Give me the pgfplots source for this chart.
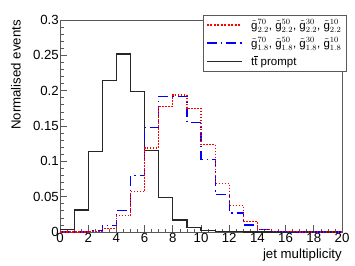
\documentclass[border=0pt]{standalone}
\usepackage{amsmath}
\usepackage{fontspec}
\setmainfont{Liberation Sans}
\usepackage{pgfplots}
\usepackage{pgfplotstable}
\pgfplotsset{compat=1.18}

\pgfplotstableread{
x y
0 0.003
1 0.031
2 0.114
3 0.214
4 0.252
5 0.199
6 0.115
7 0.049
8 0.017
9 0.006
10 0.002
11 0.001
12 0.0005
13 0
14 0
15 0
16 0
17 0
18 0
19 0
20 0
}\ttprompt

\pgfplotstableread{
x y
0 0
1 0
2 0.001
3 0.005
4 0.023
5 0.057
6 0.119
7 0.178
8 0.194
9 0.175
10 0.124
11 0.069
12 0.038
13 0.015
14 0.004
15 0.001
16 0.0003
17 0
18 0
19 0
20 0
}\gtwo

\pgfplotstableread{
x y
0 0
1 0
2 0.002
3 0.009
4 0.030
5 0.080
6 0.148
7 0.192
8 0.192
9 0.155
10 0.103
11 0.053
12 0.027
13 0.010
14 0.003
15 0.001
16 0
17 0
18 0
19 0
20 0
}\gone

\begin{document}
\begin{tikzpicture}
\path[use as bounding box] (0,0) rectangle (355pt,265pt);
\begin{axis}[
  at={(60pt,33pt)}, anchor=south west,
  scale only axis,
  width=282pt, height=212pt,
  xmin=0, xmax=20, ymin=0, ymax=0.3,
  enlargelimits=false,
  xtick={0,2,...,20},
  ytick={0,0.05,0.1,0.15,0.2,0.25,0.3},
  minor x tick num=3,
  minor y tick num=4,
  tick align=inside,
  tick pos=left,
  major tick length=7pt,
  minor tick length=3.5pt,
  scaled y ticks=false,
  axis line style={black!65, line width=0.8pt},
  every tick/.style={black!65, line width=0.7pt},
  /pgf/number format/assume math mode=true,
  yticklabel style={/pgf/number format/fixed, /pgf/number format/precision=2, font=\fontsize{13.25}{13.25}\selectfont, inner sep=1pt},
  xticklabel style={font=\fontsize{13.25}{13.25}\selectfont, inner sep=1pt},
  xlabel={jet multiplicity},
  ylabel={Normalised events},
  xlabel style={at={(axis description cs:1,0)}, anchor=north east, yshift=-17pt, inner sep=0pt, font=\fontsize{13.25}{13.25}\selectfont},
  ylabel style={at={(axis description cs:-0.174,1)}, anchor=north east, inner sep=0pt, font=\fontsize{13.25}{13.25}\selectfont},
  legend cell align=left,
  legend style={name=leg, at={(axis description cs:1.0142,1.0236)}, anchor=north east,
    draw=none, fill=white, inner xsep=3pt, inner ysep=3pt,
    row sep=4pt,
    /tikz/every odd column/.append style={column sep=7pt},
    nodes={inner sep=1.5pt, font=\fontsize{11.5}{11.5}\selectfont}},
  legend image post style={xscale=2.05},
]
\addplot[forget plot, const plot, black!85, line width=1.2pt] table[x=x,y=y] {\ttprompt};
\addplot[forget plot, const plot, blue, line width=1.2pt, dash pattern=on 10pt off 4pt on 1.5pt off 4pt] table[x=x,y=y] {\gone};
\addplot[forget plot, const plot, red, line width=1.2pt, dash pattern=on 1.5pt off 1.5pt] table[x=x,y=y] {\gtwo};
\addlegendimage{red, line width=1.5pt, dash pattern=on 2pt off 1.5pt}
\addlegendentry{$\tilde{\mathrm{g}}^{70}_{2.2}$, $\tilde{\mathrm{g}}^{50}_{2.2}$, $\tilde{\mathrm{g}}^{30}_{2.2}$, $\tilde{\mathrm{g}}^{10}_{2.2}$}
\addlegendimage{blue, line width=1.5pt, dash pattern=on 10pt off 4pt on 1.5pt off 4pt}
\addlegendentry{$\tilde{\mathrm{g}}^{70}_{1.8}$, $\tilde{\mathrm{g}}^{50}_{1.8}$, $\tilde{\mathrm{g}}^{30}_{1.8}$, $\tilde{\mathrm{g}}^{10}_{1.8}$}
\addlegendimage{black!85, line width=1.2pt}
\addlegendentry{$\mathrm{t}\overline{\mathrm{t}}$ prompt}
\end{axis}
\draw[black!65, line width=0.7pt] (leg.south west) rectangle (leg.north east);
\end{tikzpicture}
\end{document}
